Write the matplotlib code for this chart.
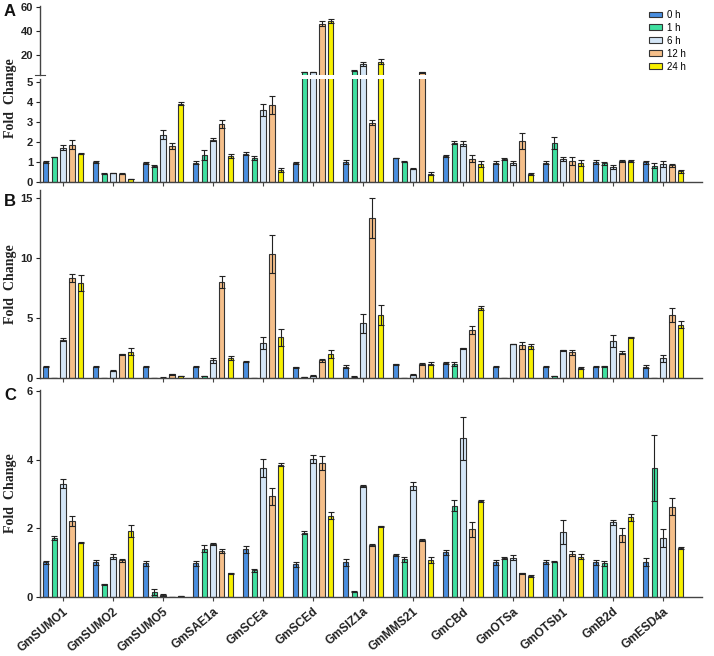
import numpy as np
import matplotlib
matplotlib.use("Agg")
import matplotlib.pyplot as plt

plt.rcParams['font.family'] = ['Liberation Sans', 'DejaVu Sans']

genes = ["GmSUMO1", "GmSUMO2", "GmSUMO5", "GmSAE1a", "GmSCEa", "GmSCEd", "GmSIZ1a",
         "GmMMS21", "GmCBd", "GmOTSa", "GmOTSb1", "GmB2d", "GmESD4a"]
times = ["0 h", "1 h", "6 h", "12 h", "24 h"]
colors = ["#4a8fe0", "#3fe0a0", "#d4e6f7", "#f5bf8a", "#f7f000"]

# panel A - rows = genes, cols = time points
a_vals = [[1.0, 1.25, 1.7, 1.85, 1.4],
          [1.0, 0.42, 0.45, 0.42, 0.15],
          [0.97, 0.8, 2.35, 1.8, 3.9],
          [0.97, 1.35, 2.1, 2.9, 1.3],
          [1.4, 1.2, 3.6, 3.85, 0.6],
          [0.95, 5.5, 5.5, 46.5, 49.0],
          [1.0, 7.0, 12.5, 2.95, 14.5],
          [1.2, 1.02, 0.67, 5.4, 0.42],
          [1.28, 1.95, 1.9, 1.17, 0.92],
          [0.97, 1.15, 0.97, 2.05, 0.4],
          [0.97, 1.95, 1.17, 1.03, 0.96],
          [0.98, 0.93, 0.75, 1.05, 1.05],
          [0.98, 0.82, 0.92, 0.83, 0.53]]
a_err = [[0.05, 0.02, 0.12, 0.22, 0.03],
         [0.07, 0.03, 0.02, 0.03, 0.01],
         [0.05, 0.03, 0.22, 0.15, 0.06],
         [0.06, 0.25, 0.07, 0.2, 0.08],
         [0.08, 0.1, 0.3, 0.45, 0.12],
         [0.07, 0.1, 0.1, 2.0, 1.7],
         [0.08, 0.3, 2.0, 0.12, 2.0],
         [0.02, 0.03, 0.03, 0.1, 0.06],
         [0.05, 0.08, 0.12, 0.15, 0.15],
         [0.06, 0.03, 0.1, 0.4, 0.05],
         [0.06, 0.3, 0.1, 0.2, 0.15],
         [0.1, 0.08, 0.12, 0.04, 0.06],
         [0.06, 0.12, 0.15, 0.08, 0.07]]

# panel B
b_vals = [[0.97, 0.02, 3.22, 8.36, 7.94],
          [0.97, 0.0, 0.64, 2.0, 2.22],
          [0.97, 0.0, 0.02, 0.33, 0.2],
          [0.97, 0.2, 1.5, 8.06, 1.7],
          [1.39, 0.02, 2.94, 10.36, 3.42],
          [0.92, 0.11, 0.22, 1.5, 2.03],
          [0.97, 0.14, 4.58, 13.36, 5.28],
          [1.17, 0.0, 0.3, 1.2, 1.22],
          [1.25, 1.2, 2.5, 4.03, 5.86],
          [0.97, 0.0, 2.86, 2.75, 2.67],
          [0.97, 0.2, 2.33, 2.17, 0.86],
          [0.97, 1.0, 3.14, 2.14, 3.42],
          [0.97, 0.03, 1.67, 5.28, 4.47]]
b_err = [[0.05, 0.0, 0.15, 0.3, 0.7],
         [0.05, 0.0, 0.05, 0.05, 0.3],
         [0.04, 0.0, 0.05, 0.03, 0.02],
         [0.05, 0.02, 0.2, 0.5, 0.2],
         [0.05, 0.0, 0.5, 1.6, 0.7],
         [0.05, 0.02, 0.05, 0.15, 0.3],
         [0.1, 0.02, 0.8, 1.7, 0.8],
         [0.03, 0.0, 0.05, 0.1, 0.15],
         [0.08, 0.15, 0.03, 0.35, 0.2],
         [0.05, 0.0, 0.03, 0.3, 0.2],
         [0.05, 0.02, 0.05, 0.2, 0.05],
         [0.05, 0.05, 0.5, 0.15, 0.03],
         [0.12, 0.0, 0.3, 0.6, 0.3]]

# panel C
c_vals = [[1.0, 1.71, 3.3, 2.2, 1.58],
          [1.0, 0.36, 1.17, 1.06, 1.92],
          [0.97, 0.14, 0.05, 0.0, 0.02],
          [0.97, 1.4, 1.53, 1.33, 0.68],
          [1.38, 0.77, 3.76, 2.93, 3.85],
          [0.95, 1.87, 4.02, 3.9, 2.36],
          [1.0, 0.15, 3.22, 1.51, 2.05],
          [1.23, 1.09, 3.24, 1.66, 1.07],
          [1.29, 2.66, 4.62, 1.97, 2.78],
          [1.0, 1.12, 1.14, 0.68, 0.6],
          [1.0, 1.02, 1.88, 1.26, 1.17],
          [1.0, 0.98, 2.17, 1.8, 2.32],
          [1.01, 3.76, 1.71, 2.63, 1.43]]
c_err = [[0.05, 0.05, 0.13, 0.15, 0.02],
         [0.07, 0.02, 0.08, 0.04, 0.18],
         [0.06, 0.08, 0.03, 0.0, 0.01],
         [0.08, 0.1, 0.03, 0.05, 0.01],
         [0.1, 0.05, 0.27, 0.25, 0.05],
         [0.07, 0.05, 0.12, 0.2, 0.1],
         [0.1, 0.01, 0.03, 0.02, 0.01],
         [0.03, 0.07, 0.12, 0.03, 0.08],
         [0.07, 0.17, 0.63, 0.22, 0.03],
         [0.07, 0.03, 0.08, 0.02, 0.02],
         [0.06, 0.02, 0.35, 0.08, 0.07],
         [0.07, 0.07, 0.07, 0.2, 0.1],
         [0.12, 0.96, 0.27, 0.24, 0.03]]

x = np.arange(len(genes))
step = 0.175
width = 0.11
BREAK = 5.2   # where panel A axis is split


def draw_bars(ax, vals, errs, only_above=None):
    vals = np.array(vals, dtype=float)
    errs = np.array(errs, dtype=float)
    if only_above is not None:
        # upper part of the broken axis shows only the tall bars
        keep = vals > only_above
        vals = np.where(keep, vals, 0)
        errs = np.where(keep, errs, 0)
    for i in range(len(times)):
        ax.bar(x + (i - 2) * step, vals[:, i], width, color=colors[i],
               edgecolor="#333333", linewidth=0.8, label=times[i],
               yerr=errs[:, i], error_kw=dict(ecolor="#222222", elinewidth=0.8,
                                              capsize=2, capthick=0.8))


def style(ax, show_bottom=True):
    ax.spines["top"].set_visible(False)
    ax.spines["right"].set_visible(False)
    for s in ["left", "bottom"]:
        ax.spines[s].set_color("#444444")
        ax.spines[s].set_linewidth(1.0)
    ax.set_xlim(-0.46, 12.78)
    ax.tick_params(axis="y", length=3, width=0.8, labelsize=8, pad=2, colors="#222222")
    ax.tick_params(axis="x", length=3, width=0.8, colors="#444444")
    for t in ax.get_yticklabels():
        t.set_fontweight("bold")
    ax.set_xticks(x)
    ax.set_xticklabels([])
    if not show_bottom:
        ax.spines["bottom"].set_visible(False)
        ax.tick_params(axis="x", bottom=False)


W, H = 714, 656
fig = plt.figure(figsize=(W / 100, H / 100), dpi=100)


def box(left, top, right, bottom):
    return [left / W, 1 - bottom / H, (right - left) / W, (bottom - top) / H]


# panel A (broken axis)
ax_top = fig.add_axes(box(40, 6, 702, 75))
ax_bot = fig.add_axes(box(40, 79, 702, 182))
draw_bars(ax_top, a_vals, a_err, only_above=BREAK)
draw_bars(ax_bot, a_vals, a_err)
ax_top.set_ylim(3.3, 61.2)
ax_top.set_yticks([20, 40, 60])
ax_bot.set_ylim(0, 5.13)
ax_bot.set_yticks([0, 1, 2, 3, 4, 5])
style(ax_top, show_bottom=False)
style(ax_bot)
ax_top.plot([-0.008, 0.008], [0, 0], transform=ax_top.transAxes, color="#444444",
            lw=0.8, clip_on=False)

# panel B
ax_b = fig.add_axes(box(40, 190, 702, 378.3))
draw_bars(ax_b, b_vals, b_err)
ax_b.set_ylim(0, 15.7)
ax_b.set_yticks([0, 5, 10, 15])
style(ax_b)

# panel C
ax_c = fig.add_axes(box(40, 390, 702, 596.7))
draw_bars(ax_c, c_vals, c_err)
ax_c.set_ylim(0, 6.03)
ax_c.set_yticks([0, 2, 4, 6])
style(ax_c)
ax_c.set_xticklabels(genes, rotation=40, ha="right", va="top", rotation_mode="anchor",
                     fontsize=8.5, fontweight="bold", color="#222222")

# y labels
for yc in [98, 284, 493]:
    fig.text(11 / W, 1 - yc / H, "Fold  Change", rotation=90, ha="center", va="center",
             fontsize=10, fontweight="bold", family="Liberation Serif", color="#222222")

# panel letters
for letter, yy in [("A", 12), ("B", 201), ("C", 395)]:
    fig.text(10 / W, 1 - yy / H, letter, ha="center", va="center", fontsize=12,
             fontweight="bold", color="#111111")

ax_top.legend(loc="upper left", bbox_to_anchor=(645 / W, 1 - 6 / H),
              bbox_transform=fig.transFigure, frameon=False, fontsize=7,
              handlelength=1.3, handleheight=0.55, labelspacing=0.3,
              handletextpad=0.6, borderaxespad=0)

fig.savefig("out.png", dpi=100)
